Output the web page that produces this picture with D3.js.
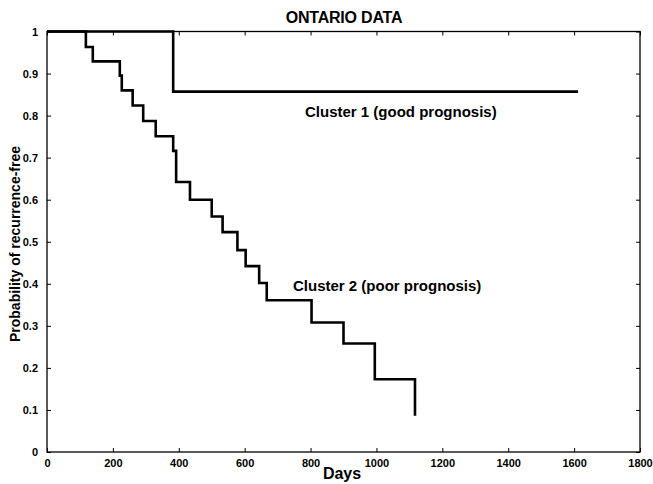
<!doctype html>
<html lang="en">
<head>
<meta charset="utf-8">
<title>Ontario data</title>
<script src="https://d3js.org/d3.v7.min.js"></script>
<style>
  body { margin: 0; background: #fff; }
  svg text { font-family: "Liberation Sans", Arial, sans-serif; font-weight: bold; fill: #000; }
  .axis path { display: none; }
  .axis line { stroke: #000; stroke-width: 1; }
  .axis text { font-size: 11px; }
</style>
</head>
<body>
<svg id="chart" width="653" height="484"></svg>
<script>
// survival curves, days vs probability of recurrence-free
var xTickValues = [0, 200, 400, 600, 800, 1000, 1200, 1400, 1600, 1800];
var yTickValues = [0, 0.1, 0.2, 0.3, 0.4, 0.5, 0.6, 0.7, 0.8, 0.9, 1];

var cluster1Days = [0, 383, 1612];
var cluster1Prob = [1, 0.857, 0.857];

var cluster2Days = [0, 118, 139, 221, 227, 260, 292, 330, 383, 392, 434, 500, 533, 578, 603, 644, 667, 803, 900, 995, 1117];
var cluster2Prob = [1, 0.963, 0.929, 0.895, 0.860, 0.824, 0.787, 0.751, 0.716, 0.642, 0.600, 0.560, 0.523, 0.480, 0.442, 0.402, 0.361, 0.308, 0.258, 0.173, 0.086];

var svg = d3.select("#chart");
var plotLeft = 47, plotRight = 640, plotTop = 31.5, plotBottom = 452;

var x = d3.scaleLinear().domain([0, 1800]).range([plotLeft, plotRight]);
var y = d3.scaleLinear().domain([0, 1]).range([plotBottom, plotTop]);

// frame
svg.append("rect")
   .attr("x", plotLeft).attr("y", plotTop)
   .attr("width", plotRight - plotLeft).attr("height", plotBottom - plotTop)
   .attr("fill", "none").attr("stroke", "#000").attr("stroke-width", 1.3);

var fmtY = function(d) { return d === 0 || d === 1 ? String(d) : d3.format(".1f")(d); };

svg.append("g").attr("class", "axis")
   .attr("transform", "translate(0," + plotBottom + ")")
   .call(d3.axisBottom(x).tickValues(xTickValues).tickSize(-4).tickPadding(7).tickFormat(d3.format("d")));

svg.append("g").attr("class", "axis")
   .attr("transform", "translate(0," + plotTop + ")")
   .call(d3.axisTop(x).tickValues(xTickValues).tickSize(-4).tickFormat(""));

svg.append("g").attr("class", "axis")
   .attr("transform", "translate(" + plotLeft + ",0)")
   .call(d3.axisLeft(y).tickValues(yTickValues).tickSize(-4).tickPadding(9).tickFormat(fmtY));

svg.append("g").attr("class", "axis")
   .attr("transform", "translate(" + plotRight + ",0)")
   .call(d3.axisRight(y).tickValues(yTickValues).tickSize(-4).tickFormat(""));

var line = d3.line()
   .x(function(d) { return x(d[0]); })
   .y(function(d) { return y(d[1]); })
   .curve(d3.curveStepAfter);

function drawCurve(days, prob) {
   svg.append("path")
      .datum(d3.zip(days, prob))
      .attr("d", line)
      .attr("fill", "none")
      .attr("stroke", "#000")
      .attr("stroke-width", 2.6);
}
drawCurve(cluster1Days, cluster1Prob);
drawCurve(cluster2Days, cluster2Prob);

// labels
svg.append("text").attr("x", 344).attr("y", 23)
   .attr("text-anchor", "middle").style("font-size", "16px").style("letter-spacing", "-0.2px")
   .text("ONTARIO DATA");

svg.append("text").attr("x", 342).attr("y", 479)
   .attr("text-anchor", "middle").style("font-size", "16px")
   .text("Days");

svg.append("text")
   .attr("transform", "translate(20,244) rotate(-90)")
   .attr("text-anchor", "middle").style("font-size", "14px")
   .text("Probability of recurrence-free");

svg.append("text").attr("x", 305).attr("y", 117)
   .style("font-size", "15px")
   .text("Cluster 1 (good prognosis)");

svg.append("text").attr("x", 293).attr("y", 291)
   .style("font-size", "15px")
   .text("Cluster 2 (poor prognosis)");
</script>
</body>
</html>
